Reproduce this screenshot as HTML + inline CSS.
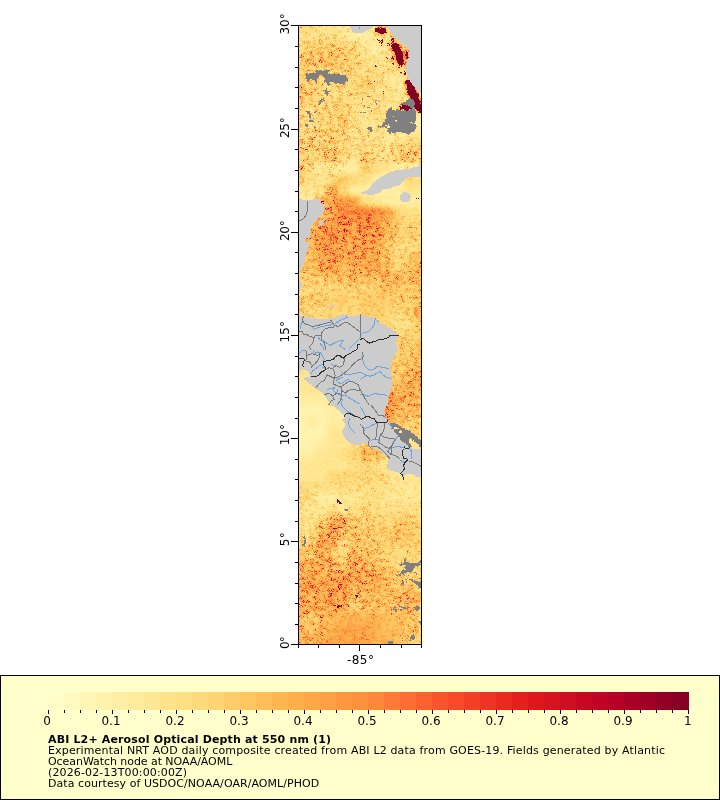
<!DOCTYPE html>
<html lang="en"><head><meta charset="utf-8"><title>ABI L2+ Aerosol Optical Depth at 550 nm</title>
<style>
html,body{margin:0;padding:0;background:#fff;}
body{width:720px;height:800px;overflow:hidden;position:relative;}
svg{position:absolute;left:0;top:0;display:block;}
</style></head><body>
<svg width="720" height="800" viewBox="0 0 720 800">
<rect width="720" height="800" fill="#fff"/>
<defs>
<clipPath id="mc"><rect x="299" y="26" width="122" height="618"/></clipPath>
<filter id="cm" filterUnits="userSpaceOnUse" x="272" y="-2" width="176" height="676" color-interpolation-filters="sRGB">
<feGaussianBlur in="SourceGraphic" stdDeviation="2.6" result="b"/>
<feTurbulence type="fractalNoise" baseFrequency="0.83 0.91" numOctaves="2" seed="7" result="t1"/>
<feTurbulence type="fractalNoise" baseFrequency="0.67 0.77" numOctaves="2" seed="23" result="t3"/>
<feTurbulence type="fractalNoise" baseFrequency="0.21 0.27" numOctaves="3" seed="3" result="t2"/>
<feColorMatrix in="t1" type="matrix" values="2.5 0 0 0 -0.75  2.5 0 0 0 -0.75  2.5 0 0 0 -0.75  0 0 0 0 1" result="g1"/>
<feColorMatrix in="t2" type="matrix" values="2.4 0 0 0 -0.7  2.4 0 0 0 -0.7  2.4 0 0 0 -0.7  0 0 0 0 1" result="g2"/>
<feComposite in="g1" in2="g2" operator="arithmetic" k1="1" k2="0" k3="0" k4="0" result="n0"/>
<feComponentTransfer in="n0" result="n"><feFuncR type="gamma" exponent="1.5"/><feFuncG type="gamma" exponent="1.5"/><feFuncB type="gamma" exponent="1.5"/></feComponentTransfer>
<feColorMatrix in="b" type="matrix" values="1 0 0 0 0  1 0 0 0 0  1 0 0 0 0  0 0 0 0 1" result="bI"/>
<feColorMatrix in="b" type="matrix" values="0 1 0 0 0  0 1 0 0 0  0 1 0 0 0  0 0 0 0 1" result="bA"/>
<feComposite in="bI" in2="bA" operator="arithmetic" k1="1" k2="0" k3="0" k4="0" result="IA"/>
<feComposite in="IA" in2="n" operator="arithmetic" k1="2.6" k2="0" k3="0" k4="0" result="c1"/>
<feComposite in="bI" in2="IA" operator="arithmetic" k1="0" k2="1" k3="-0.4004" k4="0" result="c2a"/>
<feComposite in="c1" in2="c2a" operator="arithmetic" k1="0" k2="1" k3="1" k4="0" result="c"/>
<feColorMatrix in="t3" type="matrix" values="0 1 0 0 0  0 1 0 0 0  0 1 0 0 0  0 0 0 0 1" result="g3"/>
<feComponentTransfer in="g3" result="s3"><feFuncR type="table" tableValues="0 0 0 0 0 0 0 0 0 0 0 0 0 0 0 0 0.3 0.7 1 1 1 1 1 1 1 1"/><feFuncG type="table" tableValues="0 0 0 0 0 0 0 0 0 0 0 0 0 0 0 0 0.3 0.7 1 1 1 1 1 1 1 1"/><feFuncB type="table" tableValues="0 0 0 0 0 0 0 0 0 0 0 0 0 0 0 0 0.3 0.7 1 1 1 1 1 1 1 1"/></feComponentTransfer>
<feComposite in="s3" in2="bA" operator="arithmetic" k1="1" k2="0" k3="0" k4="0" result="s3A"/>
<feComposite in="c" in2="s3A" operator="arithmetic" k1="0.6" k2="1" k3="0" k4="0" result="c2"/>
<feComponentTransfer in="c2"><feFuncR type="table" tableValues="1.0000 1.0000 0.9961 0.9961 0.9922 0.9882 0.8902 0.7412 0.5020"/><feFuncG type="table" tableValues="1.0000 0.9294 0.8510 0.6980 0.5529 0.3059 0.1020 0.0000 0.0000"/><feFuncB type="table" tableValues="0.8000 0.6275 0.4627 0.2980 0.2353 0.1647 0.1098 0.1490 0.1490"/></feComponentTransfer>
</filter>
<filter id="rg" filterUnits="userSpaceOnUse" x="290" y="18" width="140" height="634" color-interpolation-filters="sRGB">
<feTurbulence type="fractalNoise" baseFrequency="0.35" numOctaves="2" seed="11" result="t"/>
<feDisplacementMap in="SourceGraphic" in2="t" scale="3.5" xChannelSelector="R" yChannelSelector="G"/>
</filter>
</defs>
<g clip-path="url(#mc)">
<g filter="url(#cm)" shape-rendering="crispEdges">
<rect x="260" y="-20" width="200" height="720" fill="#40a000"/>
<rect x="272" y="-2" width="44" height="11" fill="#35a600"/>
<rect x="316" y="-2" width="33" height="11" fill="#2aa600"/>
<rect x="349" y="-2" width="22" height="11" fill="#1fa600"/>
<rect x="371" y="-2" width="11" height="11" fill="#2aa600"/>
<rect x="382" y="-2" width="66" height="11" fill="#35a600"/>
<rect x="272" y="9" width="44" height="11" fill="#35a600"/>
<rect x="316" y="9" width="33" height="11" fill="#2aa600"/>
<rect x="349" y="9" width="22" height="11" fill="#1fa600"/>
<rect x="371" y="9" width="11" height="11" fill="#2aa600"/>
<rect x="382" y="9" width="66" height="11" fill="#35a600"/>
<rect x="272" y="20" width="44" height="11" fill="#35a600"/>
<rect x="316" y="20" width="33" height="11" fill="#2aa600"/>
<rect x="349" y="20" width="22" height="11" fill="#1fa600"/>
<rect x="371" y="20" width="11" height="11" fill="#2aa600"/>
<rect x="382" y="20" width="66" height="11" fill="#35a600"/>
<rect x="272" y="31" width="66" height="11" fill="#35a600"/>
<rect x="338" y="31" width="11" height="11" fill="#2aa600"/>
<rect x="349" y="31" width="22" height="11" fill="#1fa600"/>
<rect x="371" y="31" width="11" height="11" fill="#2aa600"/>
<rect x="382" y="31" width="11" height="11" fill="#35a600"/>
<rect x="393" y="31" width="55" height="11" fill="#4aa600"/>
<rect x="272" y="42" width="33" height="11" fill="#3fa600"/>
<rect x="305" y="42" width="44" height="11" fill="#4aa600"/>
<rect x="349" y="42" width="11" height="11" fill="#3fa600"/>
<rect x="360" y="42" width="11" height="11" fill="#2aa600"/>
<rect x="371" y="42" width="11" height="11" fill="#1fa600"/>
<rect x="382" y="42" width="11" height="11" fill="#2aa600"/>
<rect x="393" y="42" width="11" height="11" fill="#3fa600"/>
<rect x="404" y="42" width="44" height="11" fill="#4aa600"/>
<rect x="272" y="53" width="33" height="11" fill="#4aa600"/>
<rect x="305" y="53" width="33" height="11" fill="#55a600"/>
<rect x="338" y="53" width="11" height="11" fill="#4aa600"/>
<rect x="349" y="53" width="11" height="11" fill="#3fa600"/>
<rect x="360" y="53" width="11" height="11" fill="#35a600"/>
<rect x="371" y="53" width="11" height="11" fill="#2aa600"/>
<rect x="382" y="53" width="11" height="11" fill="#35a600"/>
<rect x="393" y="53" width="11" height="11" fill="#3fa600"/>
<rect x="404" y="53" width="44" height="11" fill="#4aa600"/>
<rect x="272" y="64" width="77" height="11" fill="#4aa600"/>
<rect x="349" y="64" width="11" height="11" fill="#3fa600"/>
<rect x="360" y="64" width="33" height="11" fill="#35a600"/>
<rect x="393" y="64" width="55" height="11" fill="#3fa600"/>
<rect x="272" y="75" width="33" height="11" fill="#4aa600"/>
<rect x="305" y="75" width="55" height="11" fill="#3fa600"/>
<rect x="360" y="75" width="11" height="11" fill="#4aa600"/>
<rect x="371" y="75" width="11" height="11" fill="#3fa600"/>
<rect x="382" y="75" width="11" height="11" fill="#2aa600"/>
<rect x="393" y="75" width="11" height="11" fill="#1fa600"/>
<rect x="404" y="75" width="11" height="11" fill="#2aa600"/>
<rect x="415" y="75" width="33" height="11" fill="#35a600"/>
<rect x="272" y="86" width="33" height="11" fill="#55a600"/>
<rect x="305" y="86" width="11" height="11" fill="#4aa600"/>
<rect x="316" y="86" width="11" height="11" fill="#3fa600"/>
<rect x="327" y="86" width="11" height="11" fill="#35a600"/>
<rect x="338" y="86" width="33" height="11" fill="#3fa600"/>
<rect x="371" y="86" width="22" height="11" fill="#35a600"/>
<rect x="393" y="86" width="55" height="11" fill="#2aa600"/>
<rect x="272" y="97" width="33" height="11" fill="#4aa600"/>
<rect x="305" y="97" width="44" height="11" fill="#3fa600"/>
<rect x="349" y="97" width="44" height="11" fill="#35a600"/>
<rect x="393" y="97" width="55" height="11" fill="#2aa600"/>
<rect x="272" y="108" width="33" height="11" fill="#3fa600"/>
<rect x="305" y="108" width="11" height="11" fill="#35a600"/>
<rect x="316" y="108" width="11" height="11" fill="#4aa600"/>
<rect x="327" y="108" width="11" height="11" fill="#3fa600"/>
<rect x="338" y="108" width="11" height="11" fill="#4aa600"/>
<rect x="349" y="108" width="11" height="11" fill="#35a600"/>
<rect x="360" y="108" width="11" height="11" fill="#2aa600"/>
<rect x="371" y="108" width="11" height="11" fill="#3fa600"/>
<rect x="382" y="108" width="11" height="11" fill="#35a600"/>
<rect x="393" y="108" width="11" height="11" fill="#2aa600"/>
<rect x="404" y="108" width="11" height="11" fill="#1fa600"/>
<rect x="415" y="108" width="33" height="11" fill="#1f2600"/>
<rect x="272" y="119" width="33" height="11" fill="#3fa600"/>
<rect x="305" y="119" width="11" height="11" fill="#35a600"/>
<rect x="316" y="119" width="22" height="11" fill="#3fa600"/>
<rect x="338" y="119" width="11" height="11" fill="#4aa600"/>
<rect x="349" y="119" width="11" height="11" fill="#3fa600"/>
<rect x="360" y="119" width="11" height="11" fill="#2aa600"/>
<rect x="371" y="119" width="11" height="11" fill="#35a600"/>
<rect x="382" y="119" width="22" height="11" fill="#2aa600"/>
<rect x="404" y="119" width="11" height="11" fill="#1fa600"/>
<rect x="415" y="119" width="33" height="11" fill="#1f2600"/>
<rect x="272" y="130" width="33" height="11" fill="#3fcc00"/>
<rect x="305" y="130" width="33" height="11" fill="#4acc00"/>
<rect x="338" y="130" width="11" height="11" fill="#3fcc00"/>
<rect x="349" y="130" width="33" height="11" fill="#35cc00"/>
<rect x="382" y="130" width="33" height="11" fill="#2acc00"/>
<rect x="415" y="130" width="33" height="11" fill="#2a2600"/>
<rect x="272" y="141" width="66" height="11" fill="#4acc00"/>
<rect x="338" y="141" width="11" height="11" fill="#3fcc00"/>
<rect x="349" y="141" width="11" height="11" fill="#35cc00"/>
<rect x="360" y="141" width="11" height="11" fill="#3fcc00"/>
<rect x="371" y="141" width="22" height="11" fill="#35cc00"/>
<rect x="393" y="141" width="11" height="11" fill="#3fcc00"/>
<rect x="404" y="141" width="44" height="11" fill="#4acc00"/>
<rect x="272" y="152" width="33" height="11" fill="#4acc00"/>
<rect x="305" y="152" width="11" height="11" fill="#3fcc00"/>
<rect x="316" y="152" width="11" height="11" fill="#4acc00"/>
<rect x="327" y="152" width="11" height="11" fill="#55cc00"/>
<rect x="338" y="152" width="11" height="11" fill="#3fcc00"/>
<rect x="349" y="152" width="11" height="11" fill="#2acc00"/>
<rect x="360" y="152" width="11" height="11" fill="#55cc00"/>
<rect x="371" y="152" width="22" height="11" fill="#35cc00"/>
<rect x="393" y="152" width="11" height="11" fill="#4acc00"/>
<rect x="404" y="152" width="11" height="11" fill="#55cc00"/>
<rect x="415" y="152" width="33" height="11" fill="#4acc00"/>
<rect x="272" y="163" width="33" height="11" fill="#55cc00"/>
<rect x="305" y="163" width="11" height="11" fill="#35cc00"/>
<rect x="316" y="163" width="22" height="11" fill="#2acc00"/>
<rect x="338" y="163" width="11" height="11" fill="#1fcc00"/>
<rect x="349" y="163" width="11" height="11" fill="#1f4c00"/>
<rect x="360" y="163" width="11" height="11" fill="#4a4c00"/>
<rect x="371" y="163" width="11" height="11" fill="#354c00"/>
<rect x="382" y="163" width="11" height="11" fill="#2a4c00"/>
<rect x="393" y="163" width="55" height="11" fill="#1fcc00"/>
<rect x="272" y="174" width="33" height="11" fill="#4a8000"/>
<rect x="305" y="174" width="11" height="11" fill="#358000"/>
<rect x="316" y="174" width="11" height="11" fill="#2a8000"/>
<rect x="327" y="174" width="11" height="11" fill="#3f8000"/>
<rect x="338" y="174" width="11" height="11" fill="#4a4000"/>
<rect x="349" y="174" width="11" height="11" fill="#3f4000"/>
<rect x="360" y="174" width="11" height="11" fill="#354000"/>
<rect x="371" y="174" width="33" height="11" fill="#1f4000"/>
<rect x="404" y="174" width="11" height="11" fill="#3f4000"/>
<rect x="415" y="174" width="33" height="11" fill="#354000"/>
<rect x="272" y="185" width="44" height="11" fill="#2a8000"/>
<rect x="316" y="185" width="11" height="11" fill="#358000"/>
<rect x="327" y="185" width="11" height="11" fill="#6a8000"/>
<rect x="338" y="185" width="11" height="11" fill="#3f4000"/>
<rect x="349" y="185" width="55" height="11" fill="#1f4000"/>
<rect x="404" y="185" width="44" height="11" fill="#2a4000"/>
<rect x="272" y="196" width="44" height="11" fill="#2a8000"/>
<rect x="316" y="196" width="11" height="11" fill="#5f8000"/>
<rect x="327" y="196" width="11" height="11" fill="#6a8000"/>
<rect x="338" y="196" width="11" height="11" fill="#744000"/>
<rect x="349" y="196" width="11" height="11" fill="#6a4000"/>
<rect x="360" y="196" width="11" height="11" fill="#354000"/>
<rect x="371" y="196" width="11" height="11" fill="#2a4000"/>
<rect x="382" y="196" width="66" height="11" fill="#1f4000"/>
<rect x="272" y="207" width="44" height="11" fill="#4a8000"/>
<rect x="316" y="207" width="11" height="11" fill="#558000"/>
<rect x="327" y="207" width="11" height="11" fill="#6a8000"/>
<rect x="338" y="207" width="22" height="11" fill="#7f4000"/>
<rect x="360" y="207" width="11" height="11" fill="#8a4000"/>
<rect x="371" y="207" width="11" height="11" fill="#7f4000"/>
<rect x="382" y="207" width="11" height="11" fill="#6a4000"/>
<rect x="393" y="207" width="11" height="11" fill="#3f4000"/>
<rect x="404" y="207" width="44" height="11" fill="#354000"/>
<rect x="272" y="218" width="44" height="11" fill="#558000"/>
<rect x="316" y="218" width="11" height="11" fill="#6a8000"/>
<rect x="327" y="218" width="11" height="11" fill="#748000"/>
<rect x="338" y="218" width="11" height="11" fill="#7f8000"/>
<rect x="349" y="218" width="11" height="11" fill="#748000"/>
<rect x="360" y="218" width="11" height="11" fill="#7f8000"/>
<rect x="371" y="218" width="11" height="11" fill="#748000"/>
<rect x="382" y="218" width="11" height="11" fill="#5f8000"/>
<rect x="393" y="218" width="11" height="11" fill="#4a8000"/>
<rect x="404" y="218" width="44" height="11" fill="#3f8000"/>
<rect x="272" y="229" width="44" height="11" fill="#5f8000"/>
<rect x="316" y="229" width="11" height="11" fill="#748000"/>
<rect x="327" y="229" width="11" height="11" fill="#7f8000"/>
<rect x="338" y="229" width="11" height="11" fill="#748000"/>
<rect x="349" y="229" width="11" height="11" fill="#6a8000"/>
<rect x="360" y="229" width="22" height="11" fill="#748000"/>
<rect x="382" y="229" width="11" height="11" fill="#5f8000"/>
<rect x="393" y="229" width="22" height="11" fill="#4a8000"/>
<rect x="415" y="229" width="33" height="11" fill="#3f8000"/>
<rect x="272" y="240" width="44" height="11" fill="#5f8000"/>
<rect x="316" y="240" width="22" height="11" fill="#748000"/>
<rect x="338" y="240" width="22" height="11" fill="#6a8000"/>
<rect x="360" y="240" width="11" height="11" fill="#748000"/>
<rect x="371" y="240" width="11" height="11" fill="#6a8000"/>
<rect x="382" y="240" width="11" height="11" fill="#4a8000"/>
<rect x="393" y="240" width="11" height="11" fill="#3f8000"/>
<rect x="404" y="240" width="11" height="11" fill="#358000"/>
<rect x="415" y="240" width="33" height="11" fill="#3f8000"/>
<rect x="272" y="251" width="44" height="11" fill="#558000"/>
<rect x="316" y="251" width="11" height="11" fill="#6a8000"/>
<rect x="327" y="251" width="11" height="11" fill="#748000"/>
<rect x="338" y="251" width="33" height="11" fill="#6a8000"/>
<rect x="371" y="251" width="11" height="11" fill="#5f8000"/>
<rect x="382" y="251" width="11" height="11" fill="#558000"/>
<rect x="393" y="251" width="11" height="11" fill="#3f8000"/>
<rect x="404" y="251" width="11" height="11" fill="#4a8000"/>
<rect x="415" y="251" width="33" height="11" fill="#558000"/>
<rect x="272" y="262" width="44" height="11" fill="#558000"/>
<rect x="316" y="262" width="22" height="11" fill="#6a8000"/>
<rect x="338" y="262" width="22" height="11" fill="#5f8000"/>
<rect x="360" y="262" width="22" height="11" fill="#6a8000"/>
<rect x="382" y="262" width="11" height="11" fill="#558000"/>
<rect x="393" y="262" width="11" height="11" fill="#3f8000"/>
<rect x="404" y="262" width="11" height="11" fill="#558000"/>
<rect x="415" y="262" width="33" height="11" fill="#5f8000"/>
<rect x="272" y="273" width="55" height="11" fill="#4a8000"/>
<rect x="327" y="273" width="22" height="11" fill="#558000"/>
<rect x="349" y="273" width="11" height="11" fill="#5f8000"/>
<rect x="360" y="273" width="22" height="11" fill="#558000"/>
<rect x="382" y="273" width="22" height="11" fill="#5f8000"/>
<rect x="404" y="273" width="11" height="11" fill="#558000"/>
<rect x="415" y="273" width="33" height="11" fill="#5f8000"/>
<rect x="272" y="284" width="77" height="11" fill="#3f8000"/>
<rect x="349" y="284" width="11" height="11" fill="#4a8000"/>
<rect x="360" y="284" width="11" height="11" fill="#3f8000"/>
<rect x="371" y="284" width="11" height="11" fill="#4a8000"/>
<rect x="382" y="284" width="11" height="11" fill="#558000"/>
<rect x="393" y="284" width="22" height="11" fill="#4a8000"/>
<rect x="415" y="284" width="33" height="11" fill="#558000"/>
<rect x="272" y="295" width="55" height="11" fill="#4a8000"/>
<rect x="327" y="295" width="22" height="11" fill="#4a4c00"/>
<rect x="349" y="295" width="11" height="11" fill="#3f4c00"/>
<rect x="360" y="295" width="33" height="11" fill="#4a4c00"/>
<rect x="393" y="295" width="22" height="11" fill="#4a8000"/>
<rect x="415" y="295" width="33" height="11" fill="#558000"/>
<rect x="272" y="306" width="33" height="11" fill="#4a8000"/>
<rect x="305" y="306" width="22" height="11" fill="#3f8000"/>
<rect x="327" y="306" width="33" height="11" fill="#3f4c00"/>
<rect x="360" y="306" width="22" height="11" fill="#4a4c00"/>
<rect x="382" y="306" width="11" height="11" fill="#3f4c00"/>
<rect x="393" y="306" width="11" height="11" fill="#3f8000"/>
<rect x="404" y="306" width="11" height="11" fill="#4a8000"/>
<rect x="415" y="306" width="33" height="11" fill="#5f8000"/>
<rect x="272" y="317" width="55" height="11" fill="#3f8000"/>
<rect x="327" y="317" width="66" height="11" fill="#3f4c00"/>
<rect x="393" y="317" width="22" height="11" fill="#358000"/>
<rect x="415" y="317" width="33" height="11" fill="#558000"/>
<rect x="272" y="328" width="88" height="11" fill="#3f8000"/>
<rect x="360" y="328" width="33" height="11" fill="#4a8000"/>
<rect x="393" y="328" width="22" height="11" fill="#3f8000"/>
<rect x="415" y="328" width="33" height="11" fill="#4a8000"/>
<rect x="272" y="339" width="88" height="11" fill="#3f8000"/>
<rect x="360" y="339" width="22" height="11" fill="#4a8000"/>
<rect x="382" y="339" width="11" height="11" fill="#558000"/>
<rect x="393" y="339" width="22" height="11" fill="#4a8000"/>
<rect x="415" y="339" width="33" height="11" fill="#558000"/>
<rect x="272" y="350" width="88" height="11" fill="#3f8000"/>
<rect x="360" y="350" width="33" height="11" fill="#558000"/>
<rect x="393" y="350" width="22" height="11" fill="#4a8000"/>
<rect x="415" y="350" width="33" height="11" fill="#558000"/>
<rect x="272" y="361" width="88" height="11" fill="#358000"/>
<rect x="360" y="361" width="33" height="11" fill="#558000"/>
<rect x="393" y="361" width="11" height="11" fill="#4a8000"/>
<rect x="404" y="361" width="11" height="11" fill="#558000"/>
<rect x="415" y="361" width="33" height="11" fill="#5f8000"/>
<rect x="272" y="372" width="77" height="11" fill="#2a0f00"/>
<rect x="349" y="372" width="11" height="11" fill="#2a8000"/>
<rect x="360" y="372" width="33" height="11" fill="#558000"/>
<rect x="393" y="372" width="11" height="11" fill="#4a8000"/>
<rect x="404" y="372" width="11" height="11" fill="#5f8000"/>
<rect x="415" y="372" width="33" height="11" fill="#6a8000"/>
<rect x="272" y="383" width="77" height="11" fill="#2a0f00"/>
<rect x="349" y="383" width="11" height="11" fill="#2a8000"/>
<rect x="360" y="383" width="44" height="11" fill="#558000"/>
<rect x="404" y="383" width="11" height="11" fill="#6a8000"/>
<rect x="415" y="383" width="33" height="11" fill="#5f8000"/>
<rect x="272" y="394" width="55" height="11" fill="#1f0f00"/>
<rect x="327" y="394" width="22" height="11" fill="#2a0f00"/>
<rect x="349" y="394" width="11" height="11" fill="#2a8000"/>
<rect x="360" y="394" width="22" height="11" fill="#5f8000"/>
<rect x="382" y="394" width="11" height="11" fill="#748000"/>
<rect x="393" y="394" width="11" height="11" fill="#6a8000"/>
<rect x="404" y="394" width="11" height="11" fill="#5f8000"/>
<rect x="415" y="394" width="33" height="11" fill="#558000"/>
<rect x="272" y="405" width="55" height="11" fill="#150f00"/>
<rect x="327" y="405" width="22" height="11" fill="#1f0f00"/>
<rect x="349" y="405" width="11" height="11" fill="#1f8000"/>
<rect x="360" y="405" width="33" height="11" fill="#748000"/>
<rect x="393" y="405" width="11" height="11" fill="#5f8000"/>
<rect x="404" y="405" width="11" height="11" fill="#558000"/>
<rect x="415" y="405" width="33" height="11" fill="#5f8000"/>
<rect x="272" y="416" width="33" height="11" fill="#150f00"/>
<rect x="305" y="416" width="11" height="11" fill="#1f0f00"/>
<rect x="316" y="416" width="11" height="11" fill="#150f00"/>
<rect x="327" y="416" width="22" height="11" fill="#1f0f00"/>
<rect x="349" y="416" width="11" height="11" fill="#1f8000"/>
<rect x="360" y="416" width="33" height="11" fill="#6a8000"/>
<rect x="393" y="416" width="11" height="11" fill="#558000"/>
<rect x="404" y="416" width="44" height="11" fill="#4a8000"/>
<rect x="272" y="427" width="55" height="11" fill="#150f00"/>
<rect x="327" y="427" width="22" height="11" fill="#2a0f00"/>
<rect x="349" y="427" width="11" height="11" fill="#2a8000"/>
<rect x="360" y="427" width="33" height="11" fill="#558000"/>
<rect x="393" y="427" width="11" height="11" fill="#4a8000"/>
<rect x="404" y="427" width="11" height="11" fill="#3f8000"/>
<rect x="415" y="427" width="33" height="11" fill="#4a8000"/>
<rect x="272" y="438" width="44" height="11" fill="#150f00"/>
<rect x="316" y="438" width="11" height="11" fill="#1f0f00"/>
<rect x="327" y="438" width="11" height="11" fill="#2a0f00"/>
<rect x="338" y="438" width="11" height="11" fill="#2a4c00"/>
<rect x="349" y="438" width="11" height="11" fill="#354c00"/>
<rect x="360" y="438" width="44" height="11" fill="#4a8000"/>
<rect x="404" y="438" width="11" height="11" fill="#2a2600"/>
<rect x="415" y="438" width="33" height="11" fill="#352600"/>
<rect x="272" y="449" width="44" height="11" fill="#1f0f00"/>
<rect x="316" y="449" width="22" height="11" fill="#2a0f00"/>
<rect x="338" y="449" width="11" height="11" fill="#354c00"/>
<rect x="349" y="449" width="11" height="11" fill="#3f4c00"/>
<rect x="360" y="449" width="11" height="11" fill="#5f8000"/>
<rect x="371" y="449" width="11" height="11" fill="#558000"/>
<rect x="382" y="449" width="22" height="11" fill="#4a8000"/>
<rect x="404" y="449" width="44" height="11" fill="#352600"/>
<rect x="272" y="460" width="66" height="11" fill="#2a3300"/>
<rect x="338" y="460" width="11" height="11" fill="#2a4c00"/>
<rect x="349" y="460" width="11" height="11" fill="#354c00"/>
<rect x="360" y="460" width="11" height="11" fill="#3f8000"/>
<rect x="371" y="460" width="11" height="11" fill="#358000"/>
<rect x="382" y="460" width="22" height="11" fill="#2a8000"/>
<rect x="404" y="460" width="44" height="11" fill="#2a2600"/>
<rect x="272" y="471" width="55" height="11" fill="#2a3300"/>
<rect x="327" y="471" width="11" height="11" fill="#3f3300"/>
<rect x="338" y="471" width="22" height="11" fill="#3f4c00"/>
<rect x="360" y="471" width="22" height="11" fill="#3f8000"/>
<rect x="382" y="471" width="11" height="11" fill="#358000"/>
<rect x="393" y="471" width="11" height="11" fill="#2a8000"/>
<rect x="404" y="471" width="44" height="11" fill="#2a2600"/>
<rect x="272" y="482" width="33" height="11" fill="#3f5900"/>
<rect x="305" y="482" width="22" height="11" fill="#355900"/>
<rect x="327" y="482" width="66" height="11" fill="#358000"/>
<rect x="393" y="482" width="55" height="11" fill="#2a8000"/>
<rect x="272" y="493" width="33" height="11" fill="#3f9300"/>
<rect x="305" y="493" width="11" height="11" fill="#359300"/>
<rect x="316" y="493" width="22" height="11" fill="#1f9300"/>
<rect x="338" y="493" width="22" height="11" fill="#2a9300"/>
<rect x="360" y="493" width="11" height="11" fill="#359300"/>
<rect x="371" y="493" width="11" height="11" fill="#358000"/>
<rect x="382" y="493" width="66" height="11" fill="#2a8000"/>
<rect x="272" y="504" width="33" height="11" fill="#359300"/>
<rect x="305" y="504" width="22" height="11" fill="#2a9300"/>
<rect x="327" y="504" width="11" height="11" fill="#359300"/>
<rect x="338" y="504" width="11" height="11" fill="#2a9300"/>
<rect x="349" y="504" width="11" height="11" fill="#359300"/>
<rect x="360" y="504" width="11" height="11" fill="#3f9300"/>
<rect x="371" y="504" width="77" height="11" fill="#358000"/>
<rect x="272" y="515" width="33" height="11" fill="#359300"/>
<rect x="305" y="515" width="11" height="11" fill="#35b200"/>
<rect x="316" y="515" width="11" height="11" fill="#3fb200"/>
<rect x="327" y="515" width="11" height="11" fill="#5fb200"/>
<rect x="338" y="515" width="11" height="11" fill="#6ab200"/>
<rect x="349" y="515" width="11" height="11" fill="#4ab200"/>
<rect x="360" y="515" width="11" height="11" fill="#4a9300"/>
<rect x="371" y="515" width="22" height="11" fill="#3f8000"/>
<rect x="393" y="515" width="22" height="11" fill="#4a8000"/>
<rect x="415" y="515" width="33" height="11" fill="#3f8000"/>
<rect x="272" y="526" width="33" height="11" fill="#359300"/>
<rect x="305" y="526" width="11" height="11" fill="#35b200"/>
<rect x="316" y="526" width="11" height="11" fill="#5fb200"/>
<rect x="327" y="526" width="11" height="11" fill="#74b200"/>
<rect x="338" y="526" width="22" height="11" fill="#55b200"/>
<rect x="360" y="526" width="11" height="11" fill="#4a9300"/>
<rect x="371" y="526" width="22" height="11" fill="#4a8000"/>
<rect x="393" y="526" width="11" height="11" fill="#558000"/>
<rect x="404" y="526" width="11" height="11" fill="#4a8000"/>
<rect x="415" y="526" width="33" height="11" fill="#3f8000"/>
<rect x="272" y="537" width="33" height="11" fill="#359300"/>
<rect x="305" y="537" width="11" height="11" fill="#3fb200"/>
<rect x="316" y="537" width="11" height="11" fill="#74b200"/>
<rect x="327" y="537" width="11" height="11" fill="#6ab200"/>
<rect x="338" y="537" width="11" height="11" fill="#3fb200"/>
<rect x="349" y="537" width="11" height="11" fill="#55b200"/>
<rect x="360" y="537" width="11" height="11" fill="#4a9300"/>
<rect x="371" y="537" width="77" height="11" fill="#4a8000"/>
<rect x="272" y="548" width="33" height="11" fill="#559300"/>
<rect x="305" y="548" width="11" height="11" fill="#55b200"/>
<rect x="316" y="548" width="11" height="11" fill="#6ab200"/>
<rect x="327" y="548" width="11" height="11" fill="#4ab200"/>
<rect x="338" y="548" width="11" height="11" fill="#3fb200"/>
<rect x="349" y="548" width="11" height="11" fill="#5fb200"/>
<rect x="360" y="548" width="11" height="11" fill="#559300"/>
<rect x="371" y="548" width="11" height="11" fill="#4a8000"/>
<rect x="382" y="548" width="11" height="11" fill="#3f8000"/>
<rect x="393" y="548" width="11" height="11" fill="#358000"/>
<rect x="404" y="548" width="44" height="11" fill="#3f8000"/>
<rect x="272" y="559" width="33" height="11" fill="#5f9300"/>
<rect x="305" y="559" width="11" height="11" fill="#5fb200"/>
<rect x="316" y="559" width="11" height="11" fill="#6ab200"/>
<rect x="327" y="559" width="11" height="11" fill="#5fb200"/>
<rect x="338" y="559" width="11" height="11" fill="#4ab200"/>
<rect x="349" y="559" width="11" height="11" fill="#6ab200"/>
<rect x="360" y="559" width="11" height="11" fill="#5f9300"/>
<rect x="371" y="559" width="11" height="11" fill="#558000"/>
<rect x="382" y="559" width="11" height="11" fill="#4a8000"/>
<rect x="393" y="559" width="55" height="11" fill="#3f8000"/>
<rect x="272" y="570" width="33" height="11" fill="#5f9300"/>
<rect x="305" y="570" width="11" height="11" fill="#6a9300"/>
<rect x="316" y="570" width="11" height="11" fill="#5f9300"/>
<rect x="327" y="570" width="22" height="11" fill="#6a9300"/>
<rect x="349" y="570" width="11" height="11" fill="#749300"/>
<rect x="360" y="570" width="11" height="11" fill="#6a9300"/>
<rect x="371" y="570" width="11" height="11" fill="#6a8000"/>
<rect x="382" y="570" width="11" height="11" fill="#558000"/>
<rect x="393" y="570" width="11" height="11" fill="#4a8000"/>
<rect x="404" y="570" width="44" height="11" fill="#3f8000"/>
<rect x="272" y="581" width="33" height="11" fill="#6a9300"/>
<rect x="305" y="581" width="11" height="11" fill="#749300"/>
<rect x="316" y="581" width="11" height="11" fill="#6a9300"/>
<rect x="327" y="581" width="22" height="11" fill="#749300"/>
<rect x="349" y="581" width="22" height="11" fill="#5f9300"/>
<rect x="371" y="581" width="11" height="11" fill="#5f8000"/>
<rect x="382" y="581" width="11" height="11" fill="#558000"/>
<rect x="393" y="581" width="11" height="11" fill="#4a8000"/>
<rect x="404" y="581" width="11" height="11" fill="#558000"/>
<rect x="415" y="581" width="33" height="11" fill="#3f8000"/>
<rect x="272" y="592" width="33" height="11" fill="#6a9300"/>
<rect x="305" y="592" width="11" height="11" fill="#5f9300"/>
<rect x="316" y="592" width="11" height="11" fill="#6a9300"/>
<rect x="327" y="592" width="11" height="11" fill="#749300"/>
<rect x="338" y="592" width="11" height="11" fill="#6a9300"/>
<rect x="349" y="592" width="11" height="11" fill="#559300"/>
<rect x="360" y="592" width="11" height="11" fill="#5f9300"/>
<rect x="371" y="592" width="22" height="11" fill="#558000"/>
<rect x="393" y="592" width="55" height="11" fill="#5f8000"/>
<rect x="272" y="603" width="44" height="11" fill="#6a9300"/>
<rect x="316" y="603" width="11" height="11" fill="#5f9300"/>
<rect x="327" y="603" width="11" height="11" fill="#6a9300"/>
<rect x="338" y="603" width="11" height="11" fill="#5f9300"/>
<rect x="349" y="603" width="11" height="11" fill="#4a9300"/>
<rect x="360" y="603" width="11" height="11" fill="#559300"/>
<rect x="371" y="603" width="33" height="11" fill="#558000"/>
<rect x="404" y="603" width="11" height="11" fill="#5f8000"/>
<rect x="415" y="603" width="33" height="11" fill="#4a8000"/>
<rect x="272" y="614" width="33" height="11" fill="#5f9300"/>
<rect x="305" y="614" width="11" height="11" fill="#4a9300"/>
<rect x="316" y="614" width="11" height="11" fill="#5f9300"/>
<rect x="327" y="614" width="11" height="11" fill="#553900"/>
<rect x="338" y="614" width="44" height="11" fill="#5f3900"/>
<rect x="382" y="614" width="22" height="11" fill="#553900"/>
<rect x="404" y="614" width="11" height="11" fill="#558000"/>
<rect x="415" y="614" width="33" height="11" fill="#3f8000"/>
<rect x="272" y="625" width="33" height="11" fill="#5f8000"/>
<rect x="305" y="625" width="11" height="11" fill="#558000"/>
<rect x="316" y="625" width="11" height="11" fill="#5f8000"/>
<rect x="327" y="625" width="11" height="11" fill="#5f3900"/>
<rect x="338" y="625" width="33" height="11" fill="#6a3900"/>
<rect x="371" y="625" width="11" height="11" fill="#5f3900"/>
<rect x="382" y="625" width="22" height="11" fill="#553900"/>
<rect x="404" y="625" width="11" height="11" fill="#558000"/>
<rect x="415" y="625" width="33" height="11" fill="#4a8000"/>
<rect x="272" y="636" width="44" height="11" fill="#5f8000"/>
<rect x="316" y="636" width="11" height="11" fill="#6a8000"/>
<rect x="327" y="636" width="44" height="11" fill="#6a3900"/>
<rect x="371" y="636" width="22" height="11" fill="#5f3900"/>
<rect x="393" y="636" width="11" height="11" fill="#553900"/>
<rect x="404" y="636" width="11" height="11" fill="#4a8000"/>
<rect x="415" y="636" width="33" height="11" fill="#3f8000"/>
<rect x="272" y="647" width="44" height="11" fill="#5f8000"/>
<rect x="316" y="647" width="11" height="11" fill="#6a8000"/>
<rect x="327" y="647" width="44" height="11" fill="#6a3900"/>
<rect x="371" y="647" width="22" height="11" fill="#5f3900"/>
<rect x="393" y="647" width="11" height="11" fill="#553900"/>
<rect x="404" y="647" width="11" height="11" fill="#4a8000"/>
<rect x="415" y="647" width="33" height="11" fill="#3f8000"/>
<rect x="272" y="658" width="44" height="11" fill="#5f8000"/>
<rect x="316" y="658" width="11" height="11" fill="#6a8000"/>
<rect x="327" y="658" width="44" height="11" fill="#6a3900"/>
<rect x="371" y="658" width="22" height="11" fill="#5f3900"/>
<rect x="393" y="658" width="11" height="11" fill="#553900"/>
<rect x="404" y="658" width="11" height="11" fill="#4a8000"/>
<rect x="415" y="658" width="33" height="11" fill="#3f8000"/>
<polygon points="375.1,28.7 378.3,27.8 384.8,28.2 386.6,31.0 385.7,33.3 382.0,33.8 378.3,32.8 375.6,31.5" fill="#c0a000"/>
<polygon points="390.2,44.8 393.0,42.5 396.2,42.5 399.0,45.7 401.2,50.2 403.1,54.8 404.0,59.4 403.5,64.0 401.2,65.8 399.0,64.0 396.7,60.3 395.3,55.8 393.9,51.2 391.6,47.5" fill="#c0a000"/>
<polygon points="406.3,51.2 407.7,51.6 408.1,56.7 407.2,60.3 406.3,58.5" fill="#c0a000"/>
<polygon points="404.9,80.5 409.5,80.0 411.3,83.2 413.6,86.9 415.9,90.6 418.2,94.2 418.7,99.8 421.0,100.2 421.0,114.4 418.7,112.6 416.4,109.8 415.0,108.9 414.1,105.2 413.2,101.6 411.3,97.9 408.6,96.1 407.7,91.5 406.8,86.0 405.4,83.2" fill="#c0a000"/>
<polygon points="399.4,107.1 402.2,105.2 405.8,104.8 409.5,106.2 411.3,108.0 410.0,109.4 405.8,109.8 402.2,110.3 399.9,109.4" fill="#c0a000"/>
</g>
<g shape-rendering="crispEdges">
<g filter="url(#rg)">
<polygon points="375.1,28.7 378.3,27.8 384.8,28.2 386.6,31.0 385.7,33.3 382.0,33.8 378.3,32.8 375.6,31.5" fill="#800026"/>
<polygon points="390.2,44.8 393.0,42.5 396.2,42.5 399.0,45.7 401.2,50.2 403.1,54.8 404.0,59.4 403.5,64.0 401.2,65.8 399.0,64.0 396.7,60.3 395.3,55.8 393.9,51.2 391.6,47.5" fill="#800026"/>
<polygon points="406.3,51.2 407.7,51.6 408.1,56.7 407.2,60.3 406.3,58.5" fill="#800026"/>
<polygon points="404.9,80.5 409.5,80.0 411.3,83.2 413.6,86.9 415.9,90.6 418.2,94.2 418.7,99.8 421.0,100.2 421.0,114.4 418.7,112.6 416.4,109.8 415.0,108.9 414.1,105.2 413.2,101.6 411.3,97.9 408.6,96.1 407.7,91.5 406.8,86.0 405.4,83.2" fill="#800026"/>
<polygon points="399.4,107.1 402.2,105.2 405.8,104.8 409.5,106.2 411.3,108.0 410.0,109.4 405.8,109.8 402.2,110.3 399.9,109.4" fill="#800026"/>
<polygon points="336.2,500.8 337.5,499.9 339.8,501.7 341.7,503.1 341.2,504.5 339.4,504.0 337.5,502.6" fill="#800026"/>
<polygon points="356.3,595.2 358.2,595.2 358.2,598.4 356.3,598.4" fill="#800026"/>
<polygon points="337.1,605.8 341.7,604.8 341.7,607.1 337.5,607.8" fill="#800026"/>
</g>
<path d="M377 39h1v1h-1zM382 39h1v1h-1zM378 40h1v1h-1zM381 40h1v1h-1zM382 40h1v1h-1zM379 40h1v1h-1zM382 40h1v1h-1zM380 41h1v1h-1zM382 41h1v1h-1zM379 42h1v1h-1zM381 42h1v1h-1zM382 42h1v1h-1zM381 43h1v1h-1zM381 45h1v1h-1zM392 38h1v1h-1zM393 38h1v1h-1zM391 39h1v1h-1zM392 39h1v1h-1zM393 39h1v1h-1zM391 40h1v1h-1zM393 40h1v1h-1zM392 41h1v1h-1zM393 41h1v1h-1zM386 57h1v1h-1zM387 58h1v1h-1zM392 56h1v1h-1zM392 57h1v1h-1zM391 58h1v1h-1zM393 58h1v1h-1zM392 58h1v1h-1zM393 58h1v1h-1zM393 59h1v1h-1zM392 63h1v1h-1zM393 63h1v1h-1zM393 64h1v1h-1zM375 65h1v1h-1zM375 66h1v1h-1zM376 66h1v1h-1zM404 71h1v1h-1zM405 72h1v1h-1zM404 73h1v1h-1zM405 73h1v1h-1zM404 74h1v1h-1zM405 74h1v1h-1zM400 72h1v1h-1zM401 72h1v1h-1zM387 43h1v1h-1zM388 43h1v1h-1zM389 44h1v1h-1zM387 45h1v1h-1zM389 45h1v1h-1zM399 65h1v1h-1zM398 67h1v1h-1zM399 67h1v1h-1zM416 198h1v1h-1zM418 198h1v1h-1zM321 201h1v1h-1zM322 201h1v1h-1zM323 201h1v1h-1zM321 202h1v1h-1zM323 203h1v1h-1zM321 204h1v1h-1zM322 204h1v1h-1zM308 237h1v1h-1zM310 238h1v1h-1zM383 91h1v1h-1zM383 93h1v1h-1zM374 81h1v1h-1z" fill="#8a0026"/>
<polygon points="349.0,25.5 351.3,30.1 352.7,32.4 360.9,33.3 360.9,25.5" fill="#cccccc"/>
<polygon points="359.1,25.5 373.8,25.5 371.9,27.8 369.2,29.2 365.5,31.0 362.8,32.8 359.1,33.3" fill="#cccccc"/>
<polygon points="386.1,25.5 389.3,30.1 392.1,33.8 394.8,37.4 398.5,41.1 402.2,43.8 405.8,45.7 408.1,48.4 409.0,53.0 408.6,57.6 406.8,61.2 405.8,65.8 406.3,71.3 406.8,75.9 422.3,75.9 422.3,25.5" fill="#cccccc"/>
<polygon points="406.8,74.5 422.3,74.5 422.3,93.3 418.7,92.4 416.8,89.7 414.5,86.9 412.2,84.2 410.4,81.4 408.6,78.7 407.2,76.4" fill="#cccccc"/>
<polygon points="422.3,166.2 416.8,166.5 413.2,167.6 409.5,168.5 405.8,169.4 402.2,169.6 398.5,170.0 394.8,170.8 391.2,172.2 387.5,173.5 383.8,175.4 380.2,177.7 376.5,180.0 373.8,182.2 371.9,185.0 371.9,185.9 399.4,185.9 399.4,185.0 400.3,184.1 402.2,181.8 404.9,179.5 406.8,177.7 411.3,177.2 416.8,176.9 422.3,176.8" fill="#cccccc"/>
<polygon points="371.9,184.5 395.8,184.5 393.9,186.8 390.2,188.2 385.7,189.1 382.0,189.6 381.1,192.3 377.4,193.2 374.7,194.2 371.9,195.5 369.2,194.6 365.5,194.2 361.8,193.7 361.4,192.3 364.6,191.4 368.2,189.6 370.5,187.3" fill="#cccccc"/>
<polygon points="400.8,194.2 403.1,192.3 406.8,192.3 409.5,194.2 410.9,196.9 410.0,200.1 407.7,202.0 404.0,202.4 401.2,201.0 399.9,198.3" fill="#cccccc"/>
<polygon points="297.7,198.3 302.2,199.7 306.8,200.1 312.3,199.7 314.2,198.8 317.8,199.2 320.6,200.1 321.5,203.3 323.3,205.2 324.7,207.9 324.7,210.2 323.3,212.5 321.5,215.2 318.8,217.5 316.0,220.3 313.7,222.6 311.9,225.3 311.0,228.1 310.5,231.8 310.0,235.4 309.6,237.7 305.9,238.2 305.0,240.9 297.7,240.9" fill="#cccccc"/>
<polygon points="319.2,221.7 321.5,220.3 324.2,218.9 325.0,220.3 323.3,222.6 321.5,224.9 319.7,226.7 318.9,224.4" fill="#cccccc"/>
<polygon points="297.7,239.5 305.0,239.5 305.5,241.8 309.6,242.3 309.1,245.5 307.8,249.2 306.4,253.8 305.5,258.3 304.1,262.9 302.7,266.6 300.9,269.3 299.5,273.9 297.7,274.8" fill="#cccccc"/>
<polygon points="297.7,282.2 302.2,283.1 302.7,285.8 300.9,289.5 297.7,290.4" fill="#cccccc"/>
<polygon points="297.7,315.9 303.2,316.3 307.8,317.0 312.3,317.9 317.8,318.6 322.4,319.0 327.0,318.6 332.5,317.9 337.1,317.0 339.8,314.7 343.5,314.4 347.2,315.6 350.8,316.5 356.3,315.6 360.9,315.2 360.9,350.9 297.7,350.9" fill="#cccccc"/>
<polygon points="329.8,306.0 331.6,304.9 334.3,304.6 335.7,305.3 333.4,306.5 330.7,307.4 327.9,308.8 326.1,309.9 326.5,308.8 328.4,307.4" fill="#cccccc"/>
<polygon points="359.1,314.7 363.7,315.4 367.3,316.3 371.9,317.0 375.6,317.9 378.3,320.7 381.1,323.0 384.8,325.2 388.4,327.1 392.1,329.4 394.8,331.7 397.6,333.5 399.0,335.3 397.6,338.1 396.2,340.8 396.7,344.5 397.6,347.2 398.0,350.9 359.1,350.9" fill="#cccccc"/>
<polygon points="297.7,349.5 360.9,349.5 360.9,405.9 331.6,405.9 330.7,403.6 327.9,400.9 326.1,397.7 324.7,394.9 321.5,392.2 317.8,389.9 314.2,387.1 310.5,384.4 306.8,381.6 304.1,379.3 305.0,377.5 308.7,377.0 310.5,375.7 309.1,373.8 307.8,371.5 305.9,370.6 304.1,369.2 301.3,370.6 299.0,372.9 297.7,372.9" fill="#cccccc"/>
<polygon points="359.1,349.5 398.0,349.5 397.6,350.0 396.2,352.8 394.8,355.5 393.0,358.2 391.6,361.9 391.2,366.5 391.2,372.9 391.6,379.3 392.1,384.8 391.6,388.5 390.2,391.2 388.9,394.9 388.0,398.6 387.5,402.2 387.5,405.9 359.1,405.9" fill="#cccccc"/>
<polygon points="332.5,404.5 335.2,407.3 338.0,410.0 340.8,412.3 343.5,414.6 345.3,416.9 344.0,418.8 341.2,419.7 342.6,421.5 344.9,423.3 345.3,426.1 343.5,427.9 342.1,430.7 342.6,433.4 344.0,436.6 345.8,439.4 348.1,441.7 350.8,443.5 353.6,444.4 356.3,444.9 360.9,445.8 360.9,404.5" fill="#cccccc"/>
<polygon points="359.1,404.5 387.5,404.5 385.7,407.8 384.3,411.0 384.8,414.2 386.1,417.4 387.5,420.1 389.3,422.4 391.6,424.7 394.8,431.1 400.3,437.1 405.8,443.5 409.5,445.8 411.3,448.1 415.0,449.2 418.7,449.0 422.3,448.3 422.3,460.9 389.3,460.9 387.5,458.2 385.7,455.9 382.9,453.6 379.7,450.8 376.5,449.0 372.8,448.1 369.2,446.2 366.4,444.4 364.1,443.0 361.8,441.7 359.1,440.3" fill="#cccccc"/>
<polygon points="387.5,459.5 422.3,459.5 422.3,476.0 418.7,477.0 415.9,477.4 415.0,475.1 411.3,474.2 407.7,474.2 404.9,474.7 404.0,477.0 403.5,479.7 402.6,476.5 400.3,473.8 397.6,472.4 393.9,471.5 390.2,470.1 387.5,467.8 386.1,466.4 387.5,463.7" fill="#cccccc"/>
<g filter="url(#rg)">
<polygon points="305.0,74.5 307.8,74.1 315.5,72.7 316.0,70.2 328.8,70.2 328.8,72.7 324.2,73.2 323.3,75.0 322.4,75.0 318.8,75.0 318.8,78.7 316.9,79.1 316.9,83.7 315.1,84.2 315.1,80.5 312.3,79.6 309.6,79.1 309.1,81.9 306.4,81.9 305.9,75.0" fill="#808080"/>
<polygon points="322.4,73.2 345.3,75.0 347.6,77.8 347.6,81.4 344.0,81.9 343.5,83.7 339.8,84.2 338.0,82.3 335.2,83.7 333.4,81.9 329.8,82.3 329.3,86.5 327.5,85.1 325.6,82.8 325.2,78.7 322.9,77.8" fill="#808080"/>
<polygon points="324.2,89.2 326.1,88.8 328.4,91.0 329.8,91.5 328.8,93.3 327.0,95.2 325.2,94.2" fill="#808080"/>
<polygon points="318.3,103.4 320.1,100.2 322.4,97.9 324.7,97.0 324.2,99.3 322.0,101.6 320.1,104.3 318.8,105.2" fill="#808080"/>
<polygon points="306.8,111.2 309.6,111.2 309.6,113.5 306.8,113.5" fill="#808080"/>
<polygon points="309.1,114.4 311.4,114.4 311.4,117.6 309.1,117.6" fill="#808080"/>
<polygon points="308.2,120.4 313.7,120.4 313.7,121.8 308.2,121.8" fill="#808080"/>
<polygon points="313.7,126.3 314.6,126.3 314.6,128.6 313.7,128.6" fill="#808080"/>
<polygon points="314.2,111.7 316.5,111.7 316.5,113.0 314.2,113.0" fill="#808080"/>
<polygon points="399.4,105.2 403.1,102.5 407.7,98.8 411.3,97.9 414.1,100.7 415.0,105.2 414.5,108.5 411.3,107.5 409.5,105.7 405.8,104.3 402.2,105.2" fill="#808080"/>
<polygon points="385.7,113.5 387.5,110.8 389.3,108.0 391.6,107.1 393.0,109.4 395.3,110.8 396.7,108.9 399.4,109.8 402.2,110.8 405.8,110.3 410.0,109.8 411.3,108.5 414.5,108.9 415.9,111.7 415.9,118.1 415.0,121.8 415.9,125.4 415.5,130.0 415.9,130.9 414.1,131.8 411.3,132.8 409.5,133.7 407.7,134.6 404.9,133.2 401.2,131.8 396.7,132.3 392.1,132.8 390.2,133.7 387.5,131.8 384.8,130.9 387.5,130.0 385.7,128.2 383.8,125.4 382.0,126.3 378.3,127.7 377.9,126.8 382.0,124.5 384.8,121.8 385.7,118.1" fill="#808080"/>
<polygon points="366.4,127.2 370.5,127.2 372.8,130.0 372.4,132.3 369.2,131.4 368.2,130.0" fill="#808080"/>
<polygon points="360.0,111.7 365.5,111.7 365.5,113.0 360.0,113.0" fill="#808080"/>
<polygon points="367.3,106.6 370.1,106.6 370.1,108.0 367.3,108.0" fill="#808080"/>
<polygon points="375.6,102.5 377.4,102.5 377.4,105.2 375.6,105.2" fill="#808080"/>
<polygon points="390.2,422.4 393.0,422.9 396.7,424.1 400.3,426.5 404.0,428.6 407.7,430.5 411.3,432.3 415.0,435.1 418.7,438.2 421.9,440.8 421.9,446.2 418.7,445.3 416.8,443.5 415.0,440.9 412.2,439.4 409.5,438.7 408.8,440.9 410.2,443.7 411.3,446.2 408.6,446.1 405.6,444.2 402.7,441.3 400.0,437.6 397.2,434.9 394.5,431.6 392.1,428.4 390.7,425.4" fill="#808080"/>
<polygon points="345.3,509.0 348.1,509.0 348.1,511.3 345.3,511.3" fill="#808080"/>
<polygon points="356.3,505.8 358.2,505.8 358.2,507.2 356.3,507.2" fill="#808080"/>
<polygon points="303.2,537.0 305.9,537.0 306.4,542.5 305.0,543.4 304.5,546.6 301.3,545.7 301.3,543.9 304.1,543.0 303.6,539.3" fill="#808080"/>
<polygon points="338.0,515.0 341.7,515.0 341.7,516.4 338.0,516.4" fill="#808080"/>
<polygon points="399.4,565.0 401.2,563.1 404.0,562.7 404.5,558.1 405.8,558.5 405.8,562.2 408.6,561.8 410.0,563.6 412.2,562.7 415.9,563.1 417.8,561.3 421.0,559.9 421.0,564.5 418.7,565.9 415.9,566.3 414.1,568.2 413.2,570.0 412.7,571.8 409.5,572.3 405.8,572.8 403.1,573.7 399.4,575.5 396.7,576.9 396.2,575.5 399.4,574.1 400.8,572.3 401.2,570.0 404.9,570.0 404.0,567.2 405.8,565.4 403.1,565.0 400.3,565.9" fill="#808080"/>
<polygon points="410.4,579.2 412.7,579.2 412.7,580.5 410.4,580.5" fill="#808080"/>
<polygon points="413.2,581.5 418.7,581.0 421.0,582.8 421.0,587.4 418.7,588.3 417.8,585.6 415.0,583.8" fill="#808080"/>
<polygon points="401.7,580.5 403.5,580.5 403.5,584.7 401.7,584.7" fill="#808080"/>
<polygon points="394.8,608.5 397.6,608.5 397.6,611.7 394.8,611.7" fill="#808080"/>
<polygon points="391.6,603.0 393.5,603.0 393.5,604.4 391.6,604.4" fill="#808080"/>
<polygon points="400.3,609.4 402.2,609.4 402.2,610.8 400.3,610.8" fill="#808080"/>
<polygon points="414.1,606.2 418.7,606.2 420.5,607.6 418.7,610.3 415.0,611.2" fill="#808080"/>
<polygon points="412.7,614.5 415.9,614.5 415.9,615.8 412.7,615.8" fill="#808080"/>
<polygon points="418.7,621.3 421.0,621.3 421.0,624.1 418.7,624.1" fill="#808080"/>
<polygon points="398.5,617.7 399.9,617.7 399.9,619.0 398.5,619.0" fill="#808080"/>
<polygon points="405.8,597.5 407.7,597.5 407.7,598.9 405.8,598.9" fill="#808080"/>
<polygon points="409.5,638.5 411.3,635.8 413.2,633.9 415.5,634.4 415.0,637.6 413.6,639.9 410.0,640.8" fill="#808080"/>
<polygon points="387.5,641.2 392.1,640.8 393.0,643.5 387.5,643.8" fill="#808080"/>
<polygon points="393.0,634.8 394.8,634.8 394.8,635.9 393.0,635.9" fill="#808080"/>
<polygon points="418.7,621.5 421.0,621.5 421.0,623.4 418.7,623.4" fill="#808080"/>
</g>
<polygon points="405.0,608.0 407.0,608.0 407.0,609.0 405.0,609.0" fill="#808080"/>
<polygon points="407.0,609.0 408.0,609.0 408.0,610.0 407.0,610.0" fill="#808080"/>
<polygon points="407.0,607.0 410.0,607.0 410.0,608.0 407.0,608.0" fill="#808080"/>
<polygon points="394.0,607.0 396.0,607.0 396.0,608.0 394.0,608.0" fill="#808080"/>
<polygon points="393.0,608.0 394.0,608.0 394.0,610.0 393.0,610.0" fill="#808080"/>
<polygon points="403.0,607.0 406.0,607.0 406.0,609.0 403.0,609.0" fill="#808080"/>
<polygon points="396.0,609.0 397.0,609.0 397.0,611.0 396.0,611.0" fill="#808080"/>
<polygon points="393.0,600.0 394.0,600.0 394.0,601.0 393.0,601.0" fill="#808080"/>
<polygon points="398.0,609.0 399.0,609.0 399.0,610.0 398.0,610.0" fill="#808080"/>
<polygon points="401.0,607.0 404.0,607.0 404.0,608.0 401.0,608.0" fill="#808080"/>
<polygon points="407.0,603.0 409.0,603.0 409.0,604.0 407.0,604.0" fill="#808080"/>
<polygon points="391.0,610.0 392.0,610.0 392.0,611.0 391.0,611.0" fill="#808080"/>
<polygon points="399.0,606.0 402.0,606.0 402.0,607.0 399.0,607.0" fill="#808080"/>
<polygon points="399.0,605.0 400.0,605.0 400.0,607.0 399.0,607.0" fill="#808080"/>
<polygon points="400.0,600.0 401.0,600.0 401.0,602.0 400.0,602.0" fill="#808080"/>
<polygon points="394.0,606.0 395.0,606.0 395.0,607.0 394.0,607.0" fill="#808080"/>
<polygon points="416.0,573.0 417.0,573.0 417.0,575.0 416.0,575.0" fill="#808080"/>
<polygon points="404.0,575.0 405.0,575.0 405.0,576.0 404.0,576.0" fill="#808080"/>
<polygon points="419.0,578.0 421.0,578.0 421.0,579.0 419.0,579.0" fill="#808080"/>
<polygon points="406.0,581.0 407.0,581.0 407.0,583.0 406.0,583.0" fill="#808080"/>
<polygon points="412.0,577.0 413.0,577.0 413.0,578.0 412.0,578.0" fill="#808080"/>
<polygon points="414.0,572.0 416.0,572.0 416.0,573.0 414.0,573.0" fill="#808080"/>
<polygon points="408.0,575.0 409.0,575.0 409.0,576.0 408.0,576.0" fill="#808080"/>
<polygon points="405.0,579.0 407.0,579.0 407.0,580.0 405.0,580.0" fill="#808080"/>
<polygon points="402.0,640.0 403.0,640.0 403.0,641.0 402.0,641.0" fill="#808080"/>
<polygon points="400.0,635.0 401.0,635.0 401.0,636.0 400.0,636.0" fill="#808080"/>
<polygon points="402.0,638.0 403.0,638.0 403.0,639.0 402.0,639.0" fill="#808080"/>
<polygon points="313.0,118.0 314.0,118.0 314.0,119.0 313.0,119.0" fill="#808080"/>
<polygon points="318.0,121.0 319.0,121.0 319.0,122.0 318.0,122.0" fill="#808080"/>
<polygon points="305.0,124.0 308.0,124.0 308.0,126.0 305.0,126.0" fill="#808080"/>
<polygon points="318.0,115.0 319.0,115.0 319.0,116.0 318.0,116.0" fill="#808080"/>
<polygon points="306.0,126.0 308.0,126.0 308.0,127.0 306.0,127.0" fill="#808080"/>
<polygon points="310.0,121.0 312.0,121.0 312.0,122.0 310.0,122.0" fill="#808080"/>
<polygon points="362.0,98.0 363.0,98.0 363.0,100.0 362.0,100.0" fill="#808080"/>
<polygon points="367.0,96.0 370.0,96.0 370.0,97.0 367.0,97.0" fill="#808080"/>
<polygon points="371.0,110.0 372.0,110.0 372.0,112.0 371.0,112.0" fill="#808080"/>
<polygon points="375.0,100.0 377.0,100.0 377.0,101.0 375.0,101.0" fill="#808080"/>
<polygon points="364.0,105.0 365.0,105.0 365.0,107.0 364.0,107.0" fill="#808080"/>
<g filter="url(#rg)">
<polygon points="392.1,115.3 394.4,115.3 394.4,117.2 392.1,117.2" fill="#ffe9a0"/>
<polygon points="393.5,119.9 396.7,119.9 396.7,121.8 393.5,121.8" fill="#ffe9a0"/>
<polygon points="410.0,121.8 413.2,121.8 413.2,123.1 410.0,123.1" fill="#ffe9a0"/>
<polygon points="384.8,124.5 390.2,125.0 390.2,128.2 386.6,128.6" fill="#ffe9a0"/>
<polygon points="393.9,427.0 397.6,427.0 397.6,429.3 393.9,429.3" fill="#ffe9a0"/>
<polygon points="399.4,431.1 402.2,431.1 402.2,432.5 399.4,432.5" fill="#ffe9a0"/>
<polygon points="404.0,436.6 405.8,436.6 405.8,438.0 404.0,438.0" fill="#ffe9a0"/>
</g>
</g>
<g fill="none" stroke-linejoin="round" shape-rendering="crispEdges">
<polyline points="302.7,316.5 302.7,321.6 301.3,323.4 300.4,328.9" stroke="#6aa3e0" stroke-width="1"/>
<polyline points="311.9,326.6 314.2,329.4 316.9,328.0 321.5,326.6 327.0,325.7 331.6,324.8" stroke="#6aa3e0" stroke-width="1"/>
<polyline points="335.2,323.4 339.8,320.7 343.5,318.8 347.2,317.5 346.2,315.6" stroke="#6aa3e0" stroke-width="1"/>
<polyline points="318.3,337.2 319.7,339.9 323.3,340.8 326.1,342.7 329.8,345.4 333.4,343.6 337.1,341.8 340.8,340.4 343.5,340.4 341.7,342.7 339.8,345.4 342.6,347.7 345.3,349.5" stroke="#6aa3e0" stroke-width="1"/>
<polyline points="319.7,342.7 321.5,345.0 323.3,347.7 323.8,350.0" stroke="#6aa3e0" stroke-width="1"/>
<polyline points="360.0,338.1 356.3,341.8 352.7,345.4 349.0,349.1" stroke="#6aa3e0" stroke-width="1"/>
<polyline points="375.6,318.4 374.2,321.6 374.7,324.3 371.9,328.0 368.2,331.7 363.7,332.6 360.9,334.9" stroke="#6aa3e0" stroke-width="1"/>
<polyline points="377.0,320.2 378.3,322.0" stroke="#6aa3e0" stroke-width="1"/>
<polyline points="361.8,355.5 362.8,360.1 364.6,365.6 368.2,369.2 371.9,370.2 374.7,368.8 377.0,366.5 381.1,367.0 385.7,367.9 389.3,368.8" stroke="#6aa3e0" stroke-width="1"/>
<polyline points="360.0,372.0 363.7,373.8 366.4,375.7 370.1,376.1 373.8,375.2 377.4,372.9 380.2,371.5 382.9,374.8 385.7,377.0 389.3,378.2 391.2,378.4" stroke="#6aa3e0" stroke-width="1"/>
<polyline points="360.0,380.2 362.8,377.5 366.4,375.7" stroke="#6aa3e0" stroke-width="1"/>
<polyline points="360.0,394.9 363.7,394.5 368.2,396.3 371.9,394.5 375.6,393.1 379.2,394.9 383.8,394.9 387.5,395.4" stroke="#6aa3e0" stroke-width="1"/>
<polyline points="341.7,405.0 344.4,408.7 347.2,411.4 350.8,413.2 354.5,415.1" stroke="#6aa3e0" stroke-width="1"/>
<polyline points="349.5,418.3 348.5,423.3 349.9,427.9 352.7,430.7 355.0,433.0" stroke="#6aa3e0" stroke-width="1"/>
<polyline points="360.0,406.8 362.8,410.5 364.6,414.2 365.5,416.5" stroke="#6aa3e0" stroke-width="1"/>
<polyline points="362.8,428.4 367.3,427.9 371.0,426.1 373.8,424.2 377.0,423.8" stroke="#6aa3e0" stroke-width="1"/>
<polyline points="387.5,422.9 390.2,424.7 391.6,427.0" stroke="#6aa3e0" stroke-width="1"/>
<polyline points="397.6,436.2 395.8,438.9 394.8,441.7" stroke="#6aa3e0" stroke-width="1"/>
<polyline points="371.0,440.3 374.7,439.4 378.3,439.8 379.7,441.2" stroke="#6aa3e0" stroke-width="1"/>
<polyline points="387.5,450.8 390.2,449.0 393.9,447.2 397.6,446.2 401.2,447.2 404.0,447.6" stroke="#6aa3e0" stroke-width="1"/>
<polyline points="409.5,448.1 411.3,450.8 411.8,455.4 411.3,459.1" stroke="#6aa3e0" stroke-width="1"/>
<polyline points="400.3,460.0 403.1,462.3 405.8,461.4" stroke="#6aa3e0" stroke-width="1"/>
<polyline points="299.5,353.7 302.2,350.9 305.9,350.0" stroke="#6aa3e0" stroke-width="1"/>
<polyline points="313.2,350.0 314.2,353.7 317.8,351.8 320.6,352.8 322.4,355.5 324.2,359.2 323.3,361.9" stroke="#6aa3e0" stroke-width="1"/>
<polyline points="311.0,374.3 312.3,371.1 316.0,368.3 319.7,365.6 323.3,363.8" stroke="#6aa3e0" stroke-width="1"/>
<polyline points="321.5,367.4 324.2,367.0 325.6,369.7" stroke="#6aa3e0" stroke-width="1"/>
<polyline points="330.7,363.8 334.3,365.6 336.2,367.4" stroke="#6aa3e0" stroke-width="1"/>
<polyline points="338.0,355.5 340.8,357.3 341.7,357.3" stroke="#6aa3e0" stroke-width="1"/>
<polyline points="341.2,371.5 344.4,374.3 349.0,374.8 353.6,373.4 358.2,372.9 360.0,372.9" stroke="#6aa3e0" stroke-width="1"/>
<polyline points="336.2,380.2 339.8,378.4 342.6,377.5" stroke="#6aa3e0" stroke-width="1"/>
<polyline points="337.1,381.2 340.8,383.9 343.5,382.1 347.2,379.8 349.9,380.2" stroke="#6aa3e0" stroke-width="1"/>
<polyline points="327.0,389.9 330.7,388.5 334.3,387.6 333.4,390.3 336.2,393.1 338.0,391.2 337.1,389.4" stroke="#6aa3e0" stroke-width="1"/>
<polyline points="338.0,394.0 341.7,395.8 345.3,394.9" stroke="#6aa3e0" stroke-width="1"/>
<polyline points="341.7,395.8 342.1,400.4 341.7,405.0" stroke="#6aa3e0" stroke-width="1"/>
<polyline points="345.3,394.9 349.0,397.7 353.6,400.4 358.2,403.2 360.0,404.1" stroke="#6aa3e0" stroke-width="1"/>
<polyline points="359.5,26.9 360.0,29.2" stroke="#6aa3e0" stroke-width="1"/>
<polyline points="307.8,200.6 307.8,209.8 306.4,214.3 304.1,218.0 301.8,219.8 299.0,220.6" stroke="#7a7a7a" stroke-width="1"/>
<polyline points="303.2,316.3 302.7,319.8 303.2,322.5 305.9,324.3 310.0,325.2 312.3,326.6 316.0,325.7 320.6,324.8 325.2,323.4 329.8,322.5 331.6,321.6 330.7,319.8" stroke="#7a7a7a" stroke-width="1"/>
<polyline points="331.6,321.6 334.3,325.2 333.4,328.0 330.7,327.5 326.1,328.5 323.3,330.3 321.5,333.5 321.0,335.3 315.1,335.8 313.7,338.1 313.7,340.8 312.3,343.6 309.6,346.3 310.5,350.0" stroke="#7a7a7a" stroke-width="1"/>
<polyline points="299.0,331.2 302.2,331.7 303.6,334.4 306.8,334.4 308.7,335.8 311.4,336.7 313.7,338.1" stroke="#7a7a7a" stroke-width="1"/>
<polyline points="334.3,325.2 338.0,326.6 341.7,324.3 346.2,322.0 349.9,324.3 353.6,327.1 357.2,329.8 360.0,331.7" stroke="#7a7a7a" stroke-width="1"/>
<polyline points="321.0,335.3 321.5,339.0 324.2,342.7 325.2,346.3 326.1,350.0" stroke="#7a7a7a" stroke-width="1"/>
<polyline points="360.6,314.2 360.6,338.1" stroke="#7a7a7a" stroke-width="1"/>
<polyline points="360.0,359.2 362.8,358.7 363.2,355.5 361.8,351.8" stroke="#7a7a7a" stroke-width="1"/>
<polyline points="360.0,389.4 362.8,394.0 365.5,399.5 369.2,405.0" stroke="#7a7a7a" stroke-width="1"/>
<polyline points="371.0,405.0 373.8,408.7 376.5,412.3 378.3,415.1 382.9,415.5 385.7,417.4" stroke="#7a7a7a" stroke-width="1"/>
<polyline points="377.0,422.4 377.0,427.9 376.5,432.5 376.0,437.1 375.1,439.8" stroke="#7a7a7a" stroke-width="1"/>
<polyline points="384.8,423.3 384.3,427.9 382.9,432.5 380.2,435.2 379.2,438.9 378.8,442.6" stroke="#7a7a7a" stroke-width="1"/>
<polyline points="360.0,424.2 362.8,427.0 364.1,430.7 363.7,433.4 365.5,435.2 368.7,438.0 370.1,439.8 368.2,441.7 368.7,445.3 370.1,447.2 374.7,446.2 378.3,447.2 381.1,449.0 384.8,452.7 387.5,455.9 390.2,459.1" stroke="#7a7a7a" stroke-width="1"/>
<polyline points="378.8,442.6 382.0,444.4 385.7,447.2 389.3,448.5 392.1,445.3 394.8,439.8 393.9,438.9 387.5,438.0 382.9,436.6 380.2,435.2" stroke="#7a7a7a" stroke-width="1"/>
<polyline points="392.1,445.3 391.2,450.8 392.1,454.5" stroke="#7a7a7a" stroke-width="1"/>
<polyline points="387.5,450.8 389.3,453.6 392.1,454.5 396.7,456.3 400.3,459.1" stroke="#7a7a7a" stroke-width="1"/>
<polyline points="408.6,460.9 412.2,461.8 416.8,463.7 419.6,465.5 421.0,466.4" stroke="#7a7a7a" stroke-width="1"/>
<polyline points="305.9,350.0 306.8,355.5 305.9,361.0 309.6,361.9 312.3,365.6 311.4,368.3" stroke="#7a7a7a" stroke-width="1"/>
<polyline points="306.8,355.5 312.3,353.7 316.9,355.5 319.7,353.7 318.8,359.2 315.1,363.8 312.3,365.6" stroke="#7a7a7a" stroke-width="1"/>
<polyline points="325.6,369.7 328.8,367.9 332.5,368.3 334.3,371.1 335.2,375.7 334.3,378.4 330.7,376.6 327.0,374.8 325.6,377.5 324.2,380.2 320.6,382.1 316.9,386.7 315.1,387.6" stroke="#7a7a7a" stroke-width="1"/>
<polyline points="334.3,378.4 333.4,383.9 337.1,385.8 340.8,386.7 341.7,390.3 341.7,395.8 339.8,401.3 337.1,405.0" stroke="#7a7a7a" stroke-width="1"/>
<polyline points="334.3,378.4 338.9,376.6 343.5,373.8 349.0,369.2 353.6,363.8 358.2,360.1 360.0,359.2" stroke="#7a7a7a" stroke-width="1"/>
<polyline points="340.8,386.7 345.3,383.9 349.0,381.2 353.6,382.1 358.2,384.8 360.0,389.4" stroke="#7a7a7a" stroke-width="1"/>
<polyline points="341.7,390.3 345.3,393.1 348.1,390.3 352.7,389.4 358.2,390.3 360.0,390.3" stroke="#7a7a7a" stroke-width="1"/>
<polyline points="332.5,368.3 336.2,365.6 339.8,367.4 343.5,364.7 344.4,359.2 344.0,358.2" stroke="#7a7a7a" stroke-width="1"/>
<polyline points="324.2,394.9 328.8,393.1 332.5,395.8 334.3,399.5 330.7,401.3 328.8,405.0" stroke="#7a7a7a" stroke-width="1"/>
<polyline points="332.5,395.8 337.1,393.1 339.8,394.0 341.7,395.8" stroke="#7a7a7a" stroke-width="1"/>
<polyline points="299.0,358.7 303.6,358.7 304.5,360.1 303.2,362.8 302.7,365.6 304.5,367.4" stroke="#303030" stroke-width="1"/>
<polyline points="311.0,376.6 315.1,376.6 318.8,375.2 320.6,372.5 323.3,371.1 325.6,369.7 325.2,367.4 323.8,365.6 323.3,361.9 326.1,361.0 329.8,360.5 333.4,359.2 335.2,356.9 337.1,355.5 339.8,355.0 341.7,357.3 344.0,358.2 345.3,356.0 349.0,354.1 352.7,351.8 356.3,350.0 357.2,349.1 357.2,345.0 360.0,344.5" stroke="#303030" stroke-width="1"/>
<polyline points="360.0,339.9 363.2,338.1 365.5,340.8 369.2,343.1 371.9,342.2 375.1,341.3 378.3,339.9 382.9,339.5 386.6,338.1 389.3,336.7 390.2,335.1 394.8,335.1 399.0,335.1" stroke="#303030" stroke-width="1"/>
<polyline points="344.0,416.5 346.2,413.7 349.0,413.2 351.8,414.6 354.5,416.0 357.2,416.5 360.0,417.8" stroke="#303030" stroke-width="1"/>
<polyline points="360.0,418.8 361.8,419.2 364.1,417.8 366.4,416.5 369.2,416.9 371.9,418.3 374.2,418.8 375.6,421.0 377.0,422.4 381.1,422.9 384.8,422.9 387.0,422.0 387.5,420.1" stroke="#303030" stroke-width="1"/>
<polyline points="404.5,446.2 404.9,448.1 407.7,449.0 410.4,446.7" stroke="#303030" stroke-width="1"/>
<polyline points="403.1,449.0 402.6,452.7 403.1,456.3 404.0,458.6 407.7,459.1 407.7,460.0" stroke="#303030" stroke-width="1"/>
<polyline points="407.7,460.0 404.9,462.8 403.5,465.5 404.5,468.7 402.6,471.5 400.3,473.8 402.2,474.7 403.1,477.4 403.5,479.7" stroke="#303030" stroke-width="1"/>
</g>
</g>
<g shape-rendering="crispEdges" fill="#000">
<rect x="298" y="25" width="124" height="1"/>
<rect x="298" y="644" width="124" height="1"/>
<rect x="298" y="25" width="1" height="620"/>
<rect x="421" y="25" width="1" height="620"/>
<rect x="291" y="644" width="7" height="1"/>
<rect x="295" y="624" width="3" height="1"/>
<rect x="295" y="603" width="3" height="1"/>
<rect x="295" y="583" width="3" height="1"/>
<rect x="295" y="562" width="3" height="1"/>
<rect x="291" y="541" width="7" height="1"/>
<rect x="295" y="521" width="3" height="1"/>
<rect x="295" y="500" width="3" height="1"/>
<rect x="295" y="479" width="3" height="1"/>
<rect x="295" y="459" width="3" height="1"/>
<rect x="291" y="438" width="7" height="1"/>
<rect x="295" y="418" width="3" height="1"/>
<rect x="295" y="397" width="3" height="1"/>
<rect x="295" y="376" width="3" height="1"/>
<rect x="295" y="356" width="3" height="1"/>
<rect x="291" y="335" width="7" height="1"/>
<rect x="295" y="314" width="3" height="1"/>
<rect x="295" y="294" width="3" height="1"/>
<rect x="295" y="273" width="3" height="1"/>
<rect x="295" y="252" width="3" height="1"/>
<rect x="291" y="232" width="7" height="1"/>
<rect x="295" y="211" width="3" height="1"/>
<rect x="295" y="191" width="3" height="1"/>
<rect x="295" y="170" width="3" height="1"/>
<rect x="295" y="149" width="3" height="1"/>
<rect x="291" y="129" width="7" height="1"/>
<rect x="295" y="108" width="3" height="1"/>
<rect x="295" y="87" width="3" height="1"/>
<rect x="295" y="67" width="3" height="1"/>
<rect x="295" y="46" width="3" height="1"/>
<rect x="291" y="25" width="7" height="1"/>
<rect x="298" y="645" width="1" height="3"/>
<rect x="318" y="645" width="1" height="3"/>
<rect x="339" y="645" width="1" height="3"/>
<rect x="359" y="645" width="1" height="6"/>
<rect x="380" y="645" width="1" height="3"/>
<rect x="401" y="645" width="1" height="3"/>
<rect x="421" y="645" width="1" height="3"/>
</g>
<g font-family="'DejaVu Sans','Liberation Sans',sans-serif" font-size="12px" fill="#000">
<text transform="translate(289,642.62) rotate(-90)" text-anchor="middle" textLength="12.85" lengthAdjust="spacing">0°</text>
<text transform="translate(289,539.30) rotate(-90)" text-anchor="middle" textLength="14.00" lengthAdjust="spacing">5°</text>
<text transform="translate(289,434.65) rotate(-90)" text-anchor="middle" textLength="21.10" lengthAdjust="spacing">10°</text>
<text transform="translate(289,331.70) rotate(-90)" text-anchor="middle" textLength="21.40" lengthAdjust="spacing">15°</text>
<text transform="translate(289,230.65) rotate(-90)" text-anchor="middle" textLength="20.90" lengthAdjust="spacing">20°</text>
<text transform="translate(289,127.65) rotate(-90)" text-anchor="middle" textLength="20.90" lengthAdjust="spacing">25°</text>
<text transform="translate(289,23.90) rotate(-90)" text-anchor="middle" textLength="21.20" lengthAdjust="spacing">30°</text>
<text x="360.5" y="664" text-anchor="middle" textLength="26.8" lengthAdjust="spacing">-85°</text>
</g>
<rect x="0.5" y="675.5" width="719" height="124" fill="#ffffcc" stroke="#000" stroke-width="1" shape-rendering="crispEdges"/>
<g shape-rendering="crispEdges">
<rect x="48" y="692" width="16" height="18" fill="#fffdc8"/>
<rect x="64" y="692" width="16" height="18" fill="#fffabf"/>
<rect x="80" y="692" width="16" height="18" fill="#fff6b6"/>
<rect x="96" y="692" width="16" height="18" fill="#fff2ad"/>
<rect x="112" y="692" width="16" height="18" fill="#ffefa4"/>
<rect x="128" y="692" width="16" height="18" fill="#ffeb9c"/>
<rect x="144" y="692" width="16" height="18" fill="#ffe793"/>
<rect x="160" y="692" width="16" height="18" fill="#fee38b"/>
<rect x="176" y="692" width="16" height="18" fill="#fedf83"/>
<rect x="192" y="692" width="16" height="18" fill="#fedb7a"/>
<rect x="208" y="692" width="16" height="18" fill="#fed572"/>
<rect x="224" y="692" width="16" height="18" fill="#fecd69"/>
<rect x="240" y="692" width="16" height="18" fill="#fec661"/>
<rect x="256" y="692" width="16" height="18" fill="#febe59"/>
<rect x="272" y="692" width="16" height="18" fill="#feb650"/>
<rect x="288" y="692" width="16" height="18" fill="#feae4a"/>
<rect x="304" y="692" width="16" height="18" fill="#fea747"/>
<rect x="320" y="692" width="16" height="18" fill="#fea044"/>
<rect x="336" y="692" width="16" height="18" fill="#fd9841"/>
<rect x="352" y="692" width="16" height="18" fill="#fd913e"/>
<rect x="368" y="692" width="16" height="18" fill="#fd873a"/>
<rect x="384" y="692" width="16" height="18" fill="#fd7a37"/>
<rect x="400" y="692" width="16" height="18" fill="#fc6e33"/>
<rect x="416" y="692" width="16" height="18" fill="#fc612f"/>
<rect x="432" y="692" width="16" height="18" fill="#fc542c"/>
<rect x="448" y="692" width="16" height="18" fill="#fa4929"/>
<rect x="464" y="692" width="16" height="18" fill="#f43e26"/>
<rect x="480" y="692" width="16" height="18" fill="#f03423"/>
<rect x="496" y="692" width="16" height="18" fill="#ea2a20"/>
<rect x="512" y="692" width="16" height="18" fill="#e61f1d"/>
<rect x="528" y="692" width="16" height="18" fill="#df171d"/>
<rect x="544" y="692" width="16" height="18" fill="#d8121f"/>
<rect x="560" y="692" width="16" height="18" fill="#d00d21"/>
<rect x="576" y="692" width="16" height="18" fill="#c80823"/>
<rect x="592" y="692" width="16" height="18" fill="#c10325"/>
<rect x="608" y="692" width="16" height="18" fill="#b70026"/>
<rect x="624" y="692" width="16" height="18" fill="#ab0026"/>
<rect x="640" y="692" width="16" height="18" fill="#9e0026"/>
<rect x="656" y="692" width="16" height="18" fill="#920026"/>
<rect x="672" y="692" width="17" height="18" fill="#860026"/>
<rect x="48" y="710" width="1" height="4" fill="#000"/>
<rect x="64" y="710" width="1" height="3" fill="#000"/>
<rect x="80" y="710" width="1" height="3" fill="#000"/>
<rect x="96" y="710" width="1" height="3" fill="#000"/>
<rect x="112" y="710" width="1" height="4" fill="#000"/>
<rect x="128" y="710" width="1" height="3" fill="#000"/>
<rect x="144" y="710" width="1" height="3" fill="#000"/>
<rect x="160" y="710" width="1" height="3" fill="#000"/>
<rect x="176" y="710" width="1" height="4" fill="#000"/>
<rect x="192" y="710" width="1" height="3" fill="#000"/>
<rect x="208" y="710" width="1" height="3" fill="#000"/>
<rect x="224" y="710" width="1" height="3" fill="#000"/>
<rect x="240" y="710" width="1" height="4" fill="#000"/>
<rect x="256" y="710" width="1" height="3" fill="#000"/>
<rect x="272" y="710" width="1" height="3" fill="#000"/>
<rect x="288" y="710" width="1" height="3" fill="#000"/>
<rect x="304" y="710" width="1" height="4" fill="#000"/>
<rect x="320" y="710" width="1" height="3" fill="#000"/>
<rect x="336" y="710" width="1" height="3" fill="#000"/>
<rect x="352" y="710" width="1" height="3" fill="#000"/>
<rect x="368" y="710" width="1" height="4" fill="#000"/>
<rect x="384" y="710" width="1" height="3" fill="#000"/>
<rect x="400" y="710" width="1" height="3" fill="#000"/>
<rect x="416" y="710" width="1" height="3" fill="#000"/>
<rect x="432" y="710" width="1" height="4" fill="#000"/>
<rect x="448" y="710" width="1" height="3" fill="#000"/>
<rect x="464" y="710" width="1" height="3" fill="#000"/>
<rect x="480" y="710" width="1" height="3" fill="#000"/>
<rect x="496" y="710" width="1" height="4" fill="#000"/>
<rect x="512" y="710" width="1" height="3" fill="#000"/>
<rect x="528" y="710" width="1" height="3" fill="#000"/>
<rect x="544" y="710" width="1" height="3" fill="#000"/>
<rect x="560" y="710" width="1" height="4" fill="#000"/>
<rect x="576" y="710" width="1" height="3" fill="#000"/>
<rect x="592" y="710" width="1" height="3" fill="#000"/>
<rect x="608" y="710" width="1" height="3" fill="#000"/>
<rect x="624" y="710" width="1" height="4" fill="#000"/>
<rect x="640" y="710" width="1" height="3" fill="#000"/>
<rect x="656" y="710" width="1" height="3" fill="#000"/>
<rect x="672" y="710" width="1" height="3" fill="#000"/>
<rect x="688" y="710" width="1" height="4" fill="#000"/>
</g>
<g font-family="'DejaVu Sans','Liberation Sans',sans-serif" font-size="12px" fill="#000" text-anchor="middle">
<text x="47.0" y="725">0</text>
<text x="111.0" y="725">0.1</text>
<text x="175.0" y="725">0.2</text>
<text x="239.0" y="725">0.3</text>
<text x="303.0" y="725">0.4</text>
<text x="367.0" y="725">0.5</text>
<text x="431.0" y="725">0.6</text>
<text x="495.0" y="725">0.7</text>
<text x="559.0" y="725">0.8</text>
<text x="623.0" y="725">0.9</text>
<text x="687.8" y="725">1</text>
</g>
<g font-family="'DejaVu Sans','Liberation Sans',sans-serif" font-size="11px" fill="#000">
<text x="48" y="743" textLength="283" lengthAdjust="spacing" font-weight="bold">ABI L2+ Aerosol Optical Depth at 550 nm (1)</text>
<text x="48" y="754" textLength="617" lengthAdjust="spacing">Experimental NRT AOD daily composite created from ABI L2 data from GOES-19. Fields generated by Atlantic</text>
<text x="48" y="765" textLength="184.3" lengthAdjust="spacing">OceanWatch node at NOAA/AOML</text>
<text x="48" y="776" textLength="139" lengthAdjust="spacing">(2026-02-13T00:00:00Z)</text>
<text x="48" y="787" textLength="271.3" lengthAdjust="spacing">Data courtesy of USDOC/NOAA/OAR/AOML/PHOD</text>
</g>
</svg>
</body></html>
